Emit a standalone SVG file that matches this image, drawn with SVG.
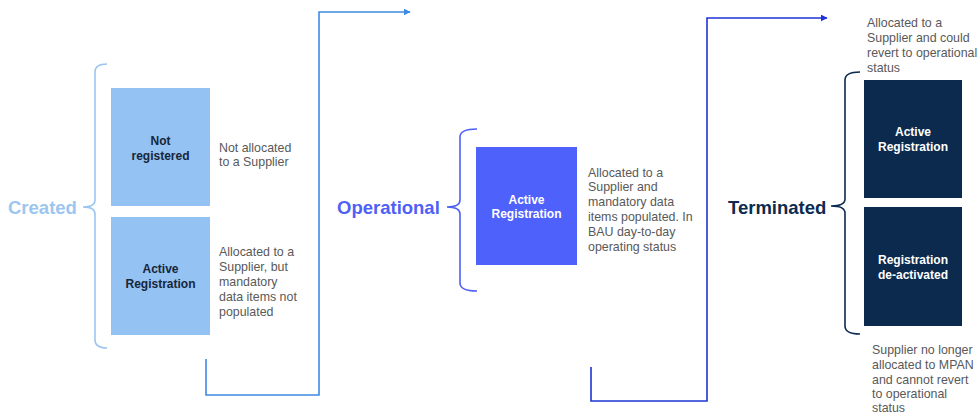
<svg xmlns="http://www.w3.org/2000/svg" width="977" height="415" viewBox="0 0 977 415">
<defs>
<style>
.desc{font-family:"Liberation Sans",Arial,sans-serif;font-size:12.4px;fill:#595959}
.bt{font-family:"Liberation Sans",Arial,sans-serif;font-size:12px;font-weight:bold;text-anchor:middle}
.hd{font-family:"Liberation Sans",Arial,sans-serif;font-size:18.5px;font-weight:bold;dominant-baseline:central}
.br{fill:none;stroke-width:1.6}
</style>
<marker id="a1" viewBox="0 0 10 10" refX="9" refY="5" markerWidth="7" markerHeight="7" markerUnits="userSpaceOnUse" orient="auto"><path d="M0,0 L10,5 L0,10 z" fill="#3d8be3"/></marker>
<marker id="a2" viewBox="0 0 10 10" refX="9" refY="5" markerWidth="7" markerHeight="7" markerUnits="userSpaceOnUse" orient="auto"><path d="M0,0 L10,5 L0,10 z" fill="#1f33d6"/></marker>
</defs>
<rect width="977" height="415" fill="#ffffff"/>

<g id="connectors">
<path d="M206,359 V395 H319 V12 H410" fill="none" stroke="#3d8be3" stroke-width="1.6" marker-end="url(#a1)"/>
<path d="M591,367 V401 H707 V18 H827" fill="none" stroke="#1f33d6" stroke-width="1.6" marker-end="url(#a2)"/>
</g>

<g id="created">
<text class="hd" x="8" y="207" fill="#9cc6f1">Created</text>
<path class="br" stroke="#9cc6f1" d="M107,64 Q95,64 95,72 V200 Q95,207 83,207 Q95,207 95,214 V340 Q95,348 107,348"/>
</g>

<g id="not-registered">
<rect x="111" y="88" width="99" height="118" fill="#94c2f2"/>
<text class="bt" fill="#17263a"><tspan x="160.5" y="145">Not</tspan><tspan x="160.5" y="160">registered</tspan></text>
<text class="desc"><tspan x="219" y="152">Not allocated</tspan><tspan x="219" y="166">to a Supplier</tspan></text>
</g>

<g id="created-active">
<rect x="111" y="217" width="99" height="118" fill="#94c2f2"/>
<text class="bt" fill="#17263a"><tspan x="160.5" y="273">Active</tspan><tspan x="160.5" y="288">Registration</tspan></text>
<text class="desc"><tspan x="219" y="256">Allocated to a</tspan><tspan x="219" y="271">Supplier, but</tspan><tspan x="219" y="286">mandatory</tspan><tspan x="219" y="301">data items not</tspan><tspan x="219" y="316">populated</tspan></text>
</g>

<g id="operational">
<text class="hd" x="337" y="207" fill="#4f61f5">Operational</text>
<path class="br" stroke="#4f61f5" d="M477,129 Q460,129 460,137 V200 Q460,207 447,207 Q460,207 460,214 V283 Q460,291 477,291"/>
</g>

<g id="operational-active">
<rect x="476" y="147" width="101" height="118" fill="#4f61fb"/>
<text class="bt" fill="#ffffff"><tspan x="526.5" y="204">Active</tspan><tspan x="526.5" y="218">Registration</tspan></text>
<text class="desc"><tspan x="588" y="177">Allocated to a</tspan><tspan x="588" y="191">Supplier and</tspan><tspan x="588" y="206">mandatory data</tspan><tspan x="588" y="221">items populated. In</tspan><tspan x="588" y="236">BAU day-to-day</tspan><tspan x="588" y="251">operating status</tspan></text>
</g>

<g id="terminated">
<text class="hd" x="728" y="207" fill="#0d2b4e">Terminated</text>
<path class="br" stroke="#0d2b4e" d="M860,72 Q845,72 845,80 V199 Q845,206 831,206 Q845,206 845,213 V326 Q845,334 860,334"/>
<text class="desc"><tspan x="867" y="27">Allocated to a</tspan><tspan x="867" y="42">Supplier and could</tspan><tspan x="867" y="57">revert to operational</tspan><tspan x="867" y="72">status</tspan></text>
</g>

<g id="terminated-active">
<rect x="864" y="80" width="98" height="118" fill="#0c2a4e"/>
<text class="bt" fill="#ffffff"><tspan x="913" y="136">Active</tspan><tspan x="913" y="151">Registration</tspan></text>
</g>

<g id="deactivated">
<rect x="864" y="207" width="98" height="119" fill="#0c2a4e"/>
<text class="bt" fill="#ffffff"><tspan x="913" y="264">Registration</tspan><tspan x="913" y="279">de-activated</tspan></text>
<text class="desc"><tspan x="872" y="354">Supplier no longer</tspan><tspan x="872" y="369">allocated to MPAN</tspan><tspan x="872" y="384">and cannot revert</tspan><tspan x="872" y="398">to operational</tspan><tspan x="872" y="412">status</tspan></text>
</g>
</svg>
